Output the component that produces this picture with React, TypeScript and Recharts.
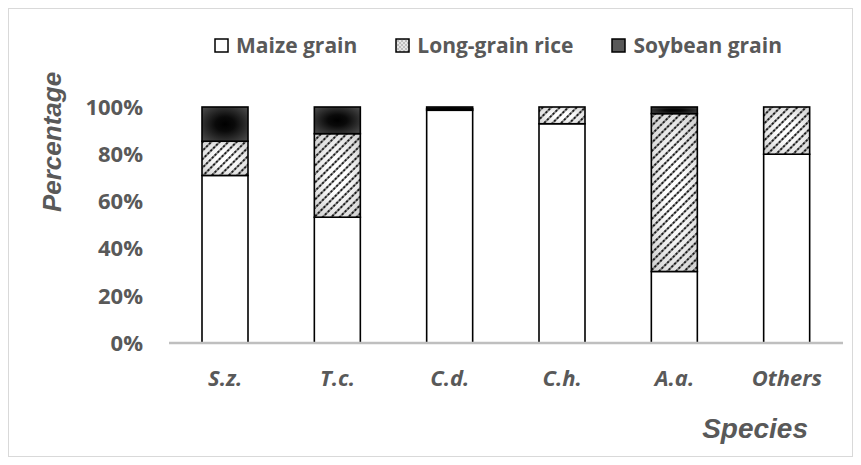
import React from 'react';
import { BarChart, Bar, XAxis, YAxis, Legend } from 'recharts';

const species = ['S.z.', 'T.c.', 'C.d.', 'C.h.', 'A.a.', 'Others'];
const maize = [71, 53.3, 98.6, 92.9, 30.3, 80];
const rice = [14.5, 35.4, 0.6, 7.1, 66.9, 20];
const soybean = [14.5, 11.3, 0.8, 0, 2.8, 0];
const yTicks = [0, 20, 40, 60, 80, 100];
const seriesKeys = ['maize', 'rice', 'soybean'];
const seriesNames = ['Maize grain', 'Long-grain rice', 'Soybean grain'];

const data = species.map((s, i) => ({
  species: s,
  maize: maize[i],
  rice: rice[i],
  soybean: soybean[i],
}));

const GRAY = '#595959';

const RiceShape = (p: any) => {
  const { x, y, width, height } = p;
  if (!height || height <= 0) return <g />;
  return (
    <g>
      <rect x={x} y={y} width={width} height={height} fill="url(#riceBg)" />
      <rect x={x} y={y} width={width} height={height} fill="url(#hatch)" stroke="#000" strokeWidth={1.6} />
    </g>
  );
};

const SoyShape = (p: any) => {
  const { x, y, width, height } = p;
  if (!height || height <= 0) return <g />;
  return <rect x={x} y={y} width={width} height={height} fill="url(#soyBg)" stroke="#000" strokeWidth={1.6} />;
};

const swatchFill: Record<string, string> = {
  maize: '#ffffff',
  rice: 'url(#legendRice)',
  soybean: '#595959',
};

const LegendContent = (props: any) => {
  const payload = [...(props.payload || [])].sort(
    (a: any, b: any) => seriesKeys.indexOf(a.dataKey) - seriesKeys.indexOf(b.dataKey)
  );
  return (
    <div style={{ display: 'flex', alignItems: 'center', gap: 38, fontFamily: 'Open Sans', fontWeight: 700, fontSize: 21, color: GRAY, lineHeight: '28px' }}>
      {payload.map((e: any) => (
        <div key={e.dataKey} style={{ display: 'flex', alignItems: 'center' }}>
          <svg width={15} height={15} style={{ marginRight: 7 }}>
            <rect x={1} y={1} width={13} height={13} fill={swatchFill[e.dataKey]} stroke="#000" strokeWidth={1.5} />
          </svg>
          <span>{e.value}</span>
        </div>
      ))}
    </div>
  );
};

const YTitle = (props: any) => {
  const vb = props.viewBox || {};
  const cx = vb.x + 52;
  const cy = vb.y + 35;
  return (
    <text
      x={cx}
      y={cy}
      transform={`rotate(-90 ${cx} ${cy})`}
      textAnchor="middle"
      fill={GRAY}
      fontFamily="Liberation Sans"
      fontWeight={700}
      fontStyle="italic"
      fontSize={26}
    >
      Percentage
    </text>
  );
};

const XTitle = (props: any) => {
  const vb = props.viewBox || {};
  return (
    <text
      x={vb.x + vb.width - 35}
      y={vb.y + 95}
      textAnchor="end"
      fill={GRAY}
      fontFamily="Liberation Sans"
      fontWeight={700}
      fontStyle="italic"
      fontSize={28}
    >
      Species
    </text>
  );
};

export default function App() {
  return (
    <div style={{ width: 845, height: 449, border: '1px solid #d9d9d9', boxSizing: 'border-box', background: '#fff' }}>
      <BarChart
        width={843}
        height={447}
        data={data}
        margin={{ top: 98, right: 9, bottom: 73, left: 0 }}
        barSize={46}
      >
        <defs>
          <pattern id="hatch" width="6" height="4" patternUnits="userSpaceOnUse" patternTransform="rotate(45)">
            <line x1="3" y1="0" x2="3" y2="4" stroke="#6a6a6a" strokeWidth="1.6" />
            <line x1="3" y1="0" x2="3" y2="4" stroke="#000" strokeWidth="1.6" strokeDasharray="2 2" />
          </pattern>
          <radialGradient id="riceBg" cx="0.5" cy="0.5" r="0.75">
            <stop offset="0.25" stopColor="#ffffff" />
            <stop offset="1" stopColor="#c8c8c8" />
          </radialGradient>
          <radialGradient id="soyBg" cx="0.5" cy="0.5" r="0.7">
            <stop offset="0" stopColor="#000000" />
            <stop offset="0.3" stopColor="#0a0a0a" />
            <stop offset="1" stopColor="#4f4f4f" />
          </radialGradient>
          <pattern id="legendRice" width="4" height="4" patternUnits="userSpaceOnUse">
            <rect width="4" height="4" fill="#e6e6e6" />
            <rect width="2" height="2" fill="#bdbdbd" />
            <rect x="2" y="2" width="2" height="2" fill="#bdbdbd" />
          </pattern>
        </defs>
        <XAxis
          dataKey="species"
          axisLine={{ stroke: '#bfbfbf', strokeWidth: 2.5 }}
          tickLine={false}
          tickSize={0}
          tickMargin={27}
          height={40}
          interval={0}
          tick={{ fill: GRAY, fontSize: 22, fontWeight: 700, fontStyle: 'italic', fontFamily: 'Open Sans' }}
          label={<XTitle />}
        />
        <YAxis
          width={160}
          domain={[0, 100]}
          ticks={yTicks}
          tickFormatter={(v: number) => `${v}%`}
          axisLine={false}
          tickLine={false}
          tickSize={6}
          tickMargin={20}
          tick={{ fill: GRAY, fontSize: 22, fontWeight: 700, fontFamily: 'Open Sans' }}
          label={<YTitle />}
        />
        <Legend
          layout="horizontal"
          verticalAlign="middle"
          align="center"
          wrapperStyle={{ top: 22, left: 205, width: 640 }}
          content={<LegendContent />}
        />
        <Bar dataKey="maize" name={seriesNames[0]} stackId="a" fill="#ffffff" stroke="#000" strokeWidth={1.6} isAnimationActive={false} />
        <Bar dataKey="rice" name={seriesNames[1]} stackId="a" fill="#eeeeee" shape={<RiceShape />} isAnimationActive={false} />
        <Bar dataKey="soybean" name={seriesNames[2]} stackId="a" fill="#333333" shape={<SoyShape />} isAnimationActive={false} />
      </BarChart>
    </div>
  );
}
